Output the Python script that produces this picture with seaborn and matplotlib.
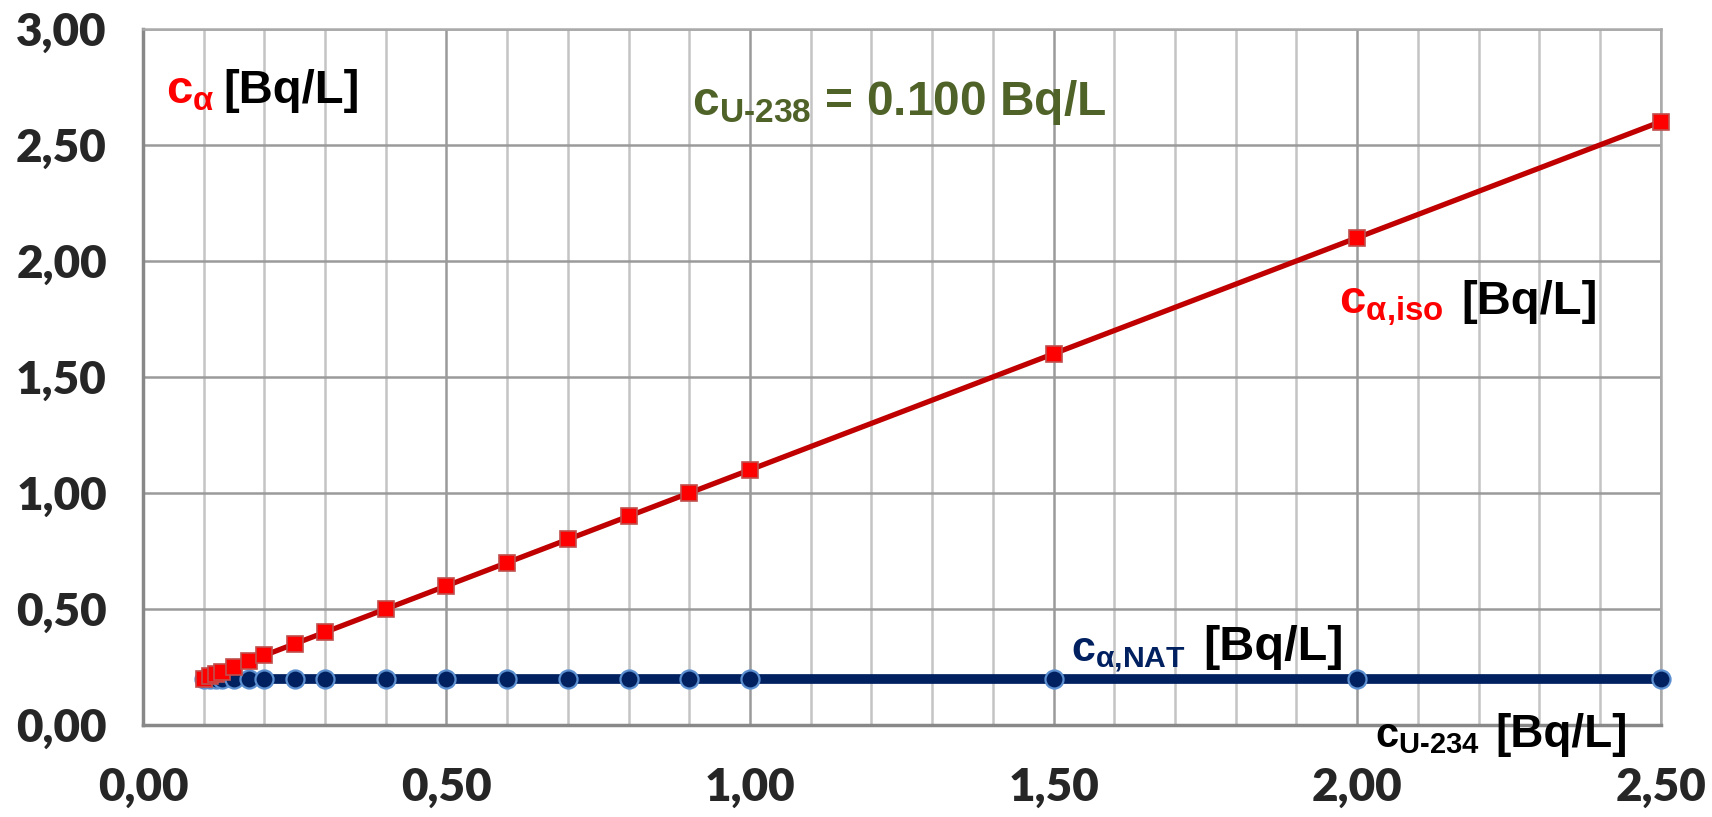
import matplotlib
matplotlib.use("Agg")
import matplotlib.pyplot as plt
import seaborn as sns
from matplotlib.ticker import MultipleLocator, FuncFormatter

# U-234 activity concentration [Bq/L]
c_u234 = [0.10, 0.11, 0.12, 0.13, 0.15, 0.175, 0.20, 0.25, 0.30, 0.40, 0.50,
          0.60, 0.70, 0.80, 0.90, 1.00, 1.50, 2.00, 2.50]
# total alpha, isotopic (U-234 + U-238)
c_alpha_iso = [0.20, 0.21, 0.22, 0.23, 0.25, 0.275, 0.30, 0.35, 0.40, 0.50, 0.60,
               0.70, 0.80, 0.90, 1.00, 1.10, 1.60, 2.10, 2.60]
# total alpha, natural equilibrium
c_alpha_nat = [0.20, 0.20, 0.20, 0.20, 0.20, 0.20, 0.20, 0.20, 0.20, 0.20, 0.20,
               0.20, 0.20, 0.20, 0.20, 0.20, 0.20, 0.20, 0.20]

RED = "#ff0000"
NAVY = "#002060"
GREEN = "#4f6228"
LABEL_FONT = "Liberation Sans"

sns.set_style("white")
plt.rcParams["font.family"] = ["Lato", "DejaVu Sans"]
plt.rcParams["font.weight"] = "heavy"
plt.rcParams["mathtext.fontset"] = "custom"
plt.rcParams["mathtext.rm"] = "Liberation Sans:bold"
plt.rcParams["mathtext.it"] = "Liberation Sans:bold"
plt.rcParams["mathtext.bf"] = "Liberation Sans:bold"
plt.rcParams["mathtext.default"] = "regular"

fig = plt.figure(figsize=(17.12, 8.17), dpi=100)
ax = fig.add_axes([0.0835, 0.1126, 0.8865, 0.852])

sns.lineplot(x=c_u234, y=c_alpha_nat, ax=ax, color=NAVY, linewidth=7,
             marker="o", markersize=13, markerfacecolor=NAVY,
             markeredgecolor="#5b8fd0", markeredgewidth=1.6, clip_on=False, zorder=3)
sns.lineplot(x=c_u234, y=c_alpha_iso, ax=ax, color="#c00000", linewidth=3.8,
             marker="s", markersize=11.5, markerfacecolor=RED,
             markeredgecolor="#c0504d", markeredgewidth=1.2, clip_on=False, zorder=4)

ax.set_xlim(0, 2.5)
ax.set_ylim(0, 3)
ax.xaxis.set_major_locator(MultipleLocator(0.5))
ax.xaxis.set_minor_locator(MultipleLocator(0.1))
ax.yaxis.set_major_locator(MultipleLocator(0.5))
comma = FuncFormatter(lambda v, p: f"{v:.2f}".replace(".", ","))
ax.xaxis.set_major_formatter(comma)
ax.yaxis.set_major_formatter(comma)

ax.tick_params(axis="both", which="major", direction="out", length=11, width=2,
               color="#888888", labelsize=33)
ax.tick_params(axis="x", which="major", pad=19)
ax.tick_params(axis="y", which="major", pad=15)
ax.tick_params(which="minor", length=0)

ax.set_axisbelow(True)
ax.grid(which="major", axis="both", color="#9a9a9a", linewidth=1.8)
ax.grid(which="minor", axis="x", color="#c4c4c4", linewidth=1.8)
for side in ["left", "bottom"]:
    ax.spines[side].set_color("#888888")
    ax.spines[side].set_linewidth(2.5)
for side in ["top", "right"]:
    ax.spines[side].set_color("#aaaaaa")
    ax.spines[side].set_linewidth(1.8)

ax.set_xlabel("")
ax.set_ylabel("")

txt = dict(fontfamily=LABEL_FONT, fontweight="bold", ha="left", va="baseline", clip_on=False)

# y label (top left)
ax.text(0.038, 2.68, r"c$_{\text{α}}$", color=RED, fontsize=34, **txt)
ax.text(0.132, 2.68, "[Bq/L]", color="black", fontsize=34, **txt)

# U-238 note
ax.text(0.905, 2.63, r"c$_{\text{U-238}}$ = 0.100 Bq/L", color=GREEN, fontsize=34.5, **txt)

# series labels
ax.text(1.970, 1.773, r"c$_{\text{α,iso}}$", color=RED, fontsize=34, **txt)
ax.text(2.172, 1.773, "[Bq/L]", color="black", fontsize=34, **txt)
ax.text(1.528, 0.279, r"c$_{\text{α,NAT}}$", color=NAVY, fontsize=31, **txt)
ax.text(1.746, 0.279, "[Bq/L]", color="black", fontsize=35, **txt)

# x label
ax.text(2.030, -0.095, r"c$_{\text{U-234}}$", color="black", fontsize=30, **txt)
ax.text(2.228, -0.095, "[Bq/L]", color="black", fontsize=33, **txt)

fig.savefig("out.png", dpi=100)
